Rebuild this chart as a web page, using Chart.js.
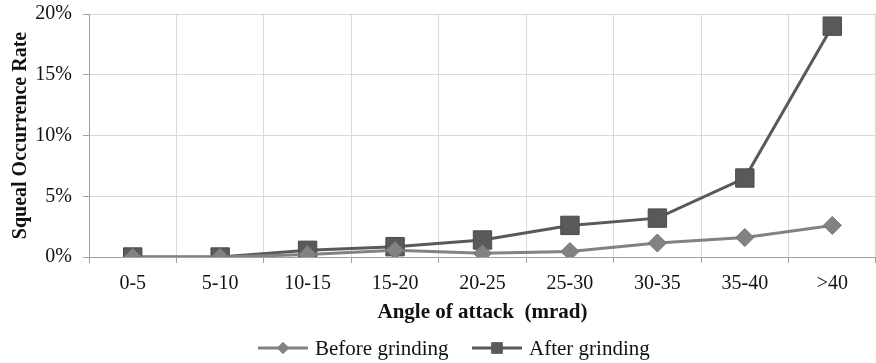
<!DOCTYPE html>
<html>
<head>
<meta charset="utf-8">
<script src="https://cdn.jsdelivr.net/npm/chart.js@4.4.0/dist/chart.umd.min.js"></script>
<style>
  html, body { margin: 0; padding: 0; background: #fff; }
  #wrap { width: 876px; height: 363px; }
</style>
</head>
<body>
<div id="wrap"><canvas id="myChart" width="876" height="363"></canvas></div>
<script>
// angle of attack bins
const categories = ['0-5', '5-10', '10-15', '15-20', '20-25', '25-30', '30-35', '35-40', '>40'];
// squeal occurrence rate, %
const beforeGrinding = [0, 0, 0.2, 0.55, 0.3, 0.45, 1.15, 1.6, 2.6];
const afterGrinding = [0, 0, 0.55, 0.85, 1.4, 2.6, 3.2, 6.5, 19.0];
const yTicks = [0, 5, 10, 15, 20];

const beforeColor = '#828282';
const afterColor = '#595959';
const serif = "'Liberation Serif', 'Times New Roman', serif";

// legend drawn as line-marker-line like the original
const lineLegend = {
    id: 'lineLegend',
    afterDraw(chart) {
        const ctx = chart.ctx;
        const y = 348;
        const items = [
            { x: 258, label: 'Before grinding', color: beforeColor, style: 'rectRot', r: 6 },
            { x: 472, label: 'After grinding', color: afterColor, style: 'rect', r: 8 }
        ];
        ctx.save();
        ctx.font = '21px ' + serif;
        ctx.textBaseline = 'middle';
        items.forEach(function (it) {
            ctx.strokeStyle = it.color;
            ctx.lineWidth = 3;
            ctx.beginPath();
            ctx.moveTo(it.x, y);
            ctx.lineTo(it.x + 50, y);
            ctx.stroke();
            ctx.fillStyle = it.color;
            Chart.helpers.drawPoint(ctx, { pointStyle: it.style, radius: it.r, borderWidth: 0 }, it.x + 25, y);
            ctx.fill();
            ctx.fillStyle = '#111';
            ctx.fillText(it.label, it.x + 57, y + 1);
        });
        ctx.restore();
    }
};

const ctx = document.getElementById('myChart').getContext('2d');
const myChart = new Chart(ctx, {
    type: 'line',
    data: {
        labels: categories,
        datasets: [{
            label: 'Before grinding',
            data: beforeGrinding,
            borderColor: beforeColor,
            backgroundColor: beforeColor,
            borderWidth: 3,
            pointStyle: 'rectRot',
            pointRadius: 9,
            pointBorderWidth: 1,
            pointBorderColor: '#707070',
            tension: 0
        }, {
            label: 'After grinding',
            data: afterGrinding,
            borderColor: afterColor,
            backgroundColor: afterColor,
            borderWidth: 3,
            pointStyle: 'rect',
            pointRadius: 13,
            pointBorderWidth: 1,
            pointBorderColor: '#4a4a4a',
            tension: 0
        }]
    },
    options: {
        responsive: false,
        animation: false,
        layout: { autoPadding: false, padding: { left: 0, right: 0, top: 14, bottom: 38 } },
        plugins: {
            legend: { display: false },
            tooltip: { enabled: false }
        },
        scales: {
            x: {
                offset: true,
                grid: { offset: true, color: '#d9d9d9', tickLength: 6, tickColor: '#a0a0a0' },
                border: { color: '#a0a0a0' },
                ticks: { color: '#111', font: { family: serif, size: 20 }, padding: 9, maxRotation: 0 },
                title: {
                    display: true,
                    text: 'Angle of attack  (mrad)',
                    color: '#111',
                    font: { family: serif, size: 21, weight: 'bold' },
                    padding: { top: 0, bottom: 0 }
                },
                afterFit: function (scale) {
                    scale.height = 68;
                    scale.paddingLeft = 0;
                    scale.paddingRight = 0;
                }
            },
            y: {
                min: 0,
                max: 20,
                afterBuildTicks: function (scale) {
                    scale.ticks = yTicks.map(function (v) { return { value: v }; });
                },
                grid: { color: '#d9d9d9', tickLength: 6, tickColor: '#a0a0a0' },
                border: { color: '#a0a0a0' },
                ticks: {
                    color: '#111',
                    font: { family: serif, size: 20 },
                    padding: 11,
                    callback: function (v) { return v + '%'; }
                },
                title: {
                    display: true,
                    text: 'Squeal Occurrence Rate',
                    color: '#111',
                    font: { family: serif, size: 20, weight: 'bold' },
                    padding: { top: 9, bottom: 0 }
                },
                afterFit: function (scale) {
                    scale.width = 89;
                    scale.paddingTop = 0;
                    scale.paddingBottom = 0;
                }
            }
        }
    },
    plugins: [lineLegend]
});
</script>
</body>
</html>
